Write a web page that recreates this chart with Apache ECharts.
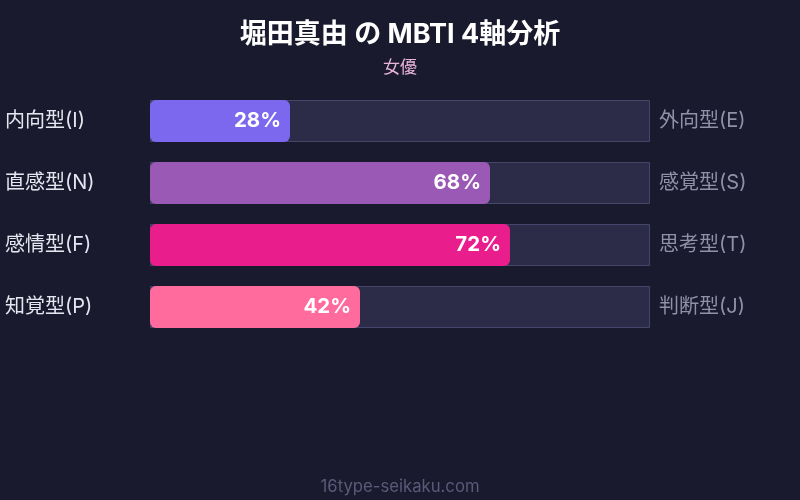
<!DOCTYPE html>
<html>
<head>
<meta charset="utf-8">
<script src="https://cdn.jsdelivr.net/npm/echarts@6/dist/echarts.min.js"></script>
<style>
html,body{margin:0;padding:0;background:#1a1a2e;}
#c{width:800px;height:500px;}
</style>
</head>
<body>
<div id="c"></div>
<script>
var leftLabels = ['内向型(I)', '直感型(N)', '感情型(F)', '知覚型(P)'];
var rightLabels = ['外向型(E)', '感覚型(S)', '思考型(T)', '判断型(J)'];
var values = [28, 68, 72, 42];
var colors = ['#7b68ee', '#9b59b6', '#e91e8c', '#ff6b9d'];
var trackValues = [100, 100, 100, 100];

var FONT = "Inter, 'Noto Sans CJK JP', sans-serif";
var chart = echarts.init(document.getElementById('c'));
chart.setOption({
  backgroundColor: '#1a1a2e',
  animation: false,
  title: [
    {text: '堀田真由 の MBTI 4軸分析', left: 'center', top: 16,
     textStyle: {color: '#ffffff', fontSize: 27, fontWeight: 'bold', fontFamily: FONT}},
    {text: '女優', left: 'center', top: 54,
     textStyle: {color: '#e8b4d8', fontSize: 17, fontWeight: 'normal', fontFamily: FONT}},
    {text: '16type-seikaku.com', left: 'center', top: 474,
     textStyle: {color: '#5a5a7a', fontSize: 16.7, fontWeight: 'normal', fontFamily: FONT}}
  ],
  grid: {left: 150, right: 150, top: 90, height: 248},
  xAxis: {type: 'value', min: 0, max: 100, show: false},
  yAxis: [
    {type: 'category', data: leftLabels, inverse: true, position: 'left',
     axisLine: {show: false}, axisTick: {show: false},
     axisLabel: {color: '#e6e6f0', fontSize: 20, fontFamily: FONT, align: 'left', margin: 145}},
    {type: 'category', data: rightLabels, inverse: true, position: 'right',
     axisLine: {show: false}, axisTick: {show: false},
     axisLabel: {color: '#9090a8', fontSize: 20, fontFamily: FONT, margin: 9}}
  ],
  series: [
    {type: 'bar', data: trackValues, barWidth: 42, barGap: '-100%', silent: true,
     itemStyle: {color: '#2c2b48', borderColor: '#46466a', borderWidth: 1}},
    {type: 'bar', barWidth: 42,
     data: values.map(function(v, i){ return {value: v, itemStyle: {color: colors[i]}}; }),
     itemStyle: {borderRadius: 6},
     label: {show: true, position: 'insideRight', formatter: '{c}%', color: '#ffffff',
             fontSize: 20.5, fontWeight: 'bold', fontFamily: FONT, distance: 9}}
  ]
});
</script>
</body>
</html>
